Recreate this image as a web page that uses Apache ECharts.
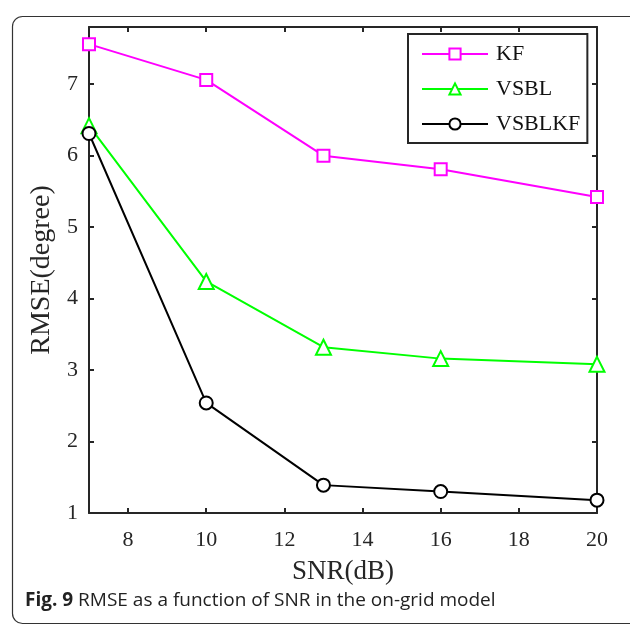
<!DOCTYPE html>
<html><head><meta charset="utf-8">
<script src="https://cdn.jsdelivr.net/npm/echarts@6/dist/echarts.min.js"></script>
<style>html,body{margin:0;padding:0;background:#fff}#c{width:630px;height:626px}</style>
</head><body><div id="c"></div>
<script>
const snr = [7, 10, 13, 16, 20];
const kf = [7.56, 7.06, 6.00, 5.81, 5.42];
const vsbl = [6.42, 4.24, 3.32, 3.16, 3.08];
const vsblkf = [6.31, 2.54, 1.39, 1.30, 1.18];
const xTicks = [8, 10, 12, 14, 16, 18, 20];
const yTicks = [1, 2, 3, 4, 5, 6, 7];
const seriesNames = ['KF', 'VSBL', 'VSBLKF'];

const axisCol = '#262626';
const serif = 'Liberation Serif';
function pairs(ys){ return snr.map((x,i)=>[x, ys[i]]); }

const chart = echarts.init(document.getElementById('c'), null, {renderer:'canvas'});
const baseX = {
  type:'value', min:7, max:20,
  axisLine:{show:true, onZero:false, lineStyle:{color:axisCol, width:2}},
  axisTick:{show:true, inside:true, length:5, lineStyle:{color:axisCol, width:2}, customValues:xTicks},
  splitLine:{show:false}
};
const baseY = {
  type:'value', min:1, max:7.8,
  axisLine:{show:true, onZero:false, lineStyle:{color:axisCol, width:2}},
  axisTick:{show:true, inside:true, length:5, lineStyle:{color:axisCol, width:2}, customValues:yTicks},
  splitLine:{show:false}
};
chart.setOption({
  animation:false,
  backgroundColor:'#fff',
  grid:{left:89, right:33, top:27, bottom:113, containLabel:false},
  xAxis:[
    Object.assign({}, baseX, {position:'bottom',
      name:'SNR(dB)', nameLocation:'middle', nameGap:45,
      nameTextStyle:{fontFamily:serif, fontSize:27, color:axisCol},
      axisLabel:{show:true, customValues:xTicks, margin:16, fontFamily:serif, fontSize:22, color:axisCol}}),
    Object.assign({}, baseX, {position:'top', axisLabel:{show:false}})
  ],
  yAxis:[
    Object.assign({}, baseY, {position:'left',
      name:'RMSE(degree)', nameLocation:'middle', nameGap:24,
      nameTextStyle:{fontFamily:serif, fontSize:28, color:axisCol},
      axisLabel:{show:true, customValues:yTicks, margin:11, fontFamily:serif, fontSize:22, color:axisCol}}),
    Object.assign({}, baseY, {position:'right', axisLabel:{show:false}})
  ],
  legend:{
    left:408, top:34, orient:'vertical',
    data:seriesNames,
    itemWidth:66, itemHeight:14, itemGap:13,
    padding:[9,7,8,13],
    borderColor:axisCol, borderWidth:2, backgroundColor:'#fff',
    textStyle:{fontFamily:serif, fontSize:22, color:'#111', padding:[0,0,0,3]}
  },
  series:[
    {name:seriesNames[0], type:'line', data:pairs(kf), symbol:'emptyRect', symbolSize:12,
     lineStyle:{color:'#ff00ff', width:2}, itemStyle:{color:'#ff00ff', borderWidth:2}},
    {name:seriesNames[1], type:'line', data:pairs(vsbl), symbol:'emptyTriangle', symbolSize:15,
     lineStyle:{color:'#00ff00', width:2}, itemStyle:{color:'#00ff00', borderWidth:2}},
    {name:seriesNames[2], type:'line', data:pairs(vsblkf), symbol:'emptyCircle', symbolSize:13,
     lineStyle:{color:'#000000', width:2}, itemStyle:{color:'#000000', borderWidth:2}}
  ],
  graphic:[
    {type:'rect', left:10, top:14, shape:{width:640, height:607, r:10}, silent:true, z:-10,
     style:{fill:'none', stroke:'#333', lineWidth:1.2}},
    {type:'text', left:25, top:591,
     style:{text:'{b|Fig. 9} RMSE as a function of SNR in the on-grid model',
       rich:{b:{fontFamily:'Open Sans', fontWeight:'bold', fontSize:19, fill:'#222'}},
       fontFamily:'Open Sans', fontSize:19, fill:'#222'}}
  ]
});
</script></body></html>
